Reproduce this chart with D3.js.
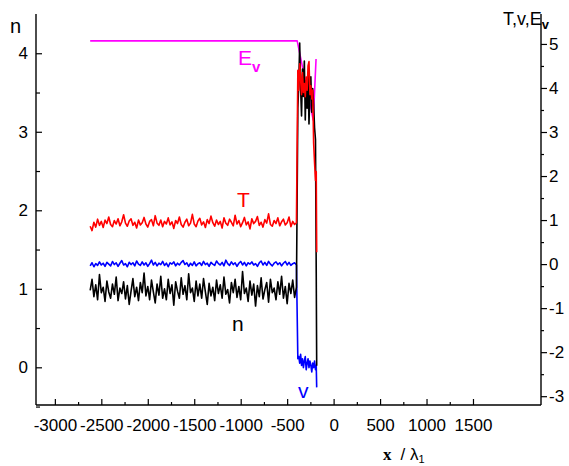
<!DOCTYPE html>
<html>
<head>
<meta charset="utf-8">
<script src="https://cdn.jsdelivr.net/npm/d3@7"></script>
<style>
  body { margin: 0; background: #fff; }
  text { font-family: "Liberation Sans", Arial, sans-serif; }
</style>
</head>
<body>
<div id="chart"></div>
<script>
'use strict';

// upstream sample positions (x / lambda1)
const xUp = [
  -2620, -2600, -2580, -2560, -2540, -2520, -2500, -2480, -2460, -2440,
  -2420, -2400, -2380, -2360, -2340, -2320, -2300, -2280, -2260, -2240,
  -2220, -2200, -2180, -2160, -2140, -2120, -2100, -2080, -2060, -2040,
  -2020, -2000, -1980, -1960, -1940, -1920, -1900, -1880, -1860, -1840,
  -1820, -1800, -1780, -1760, -1740, -1720, -1700, -1680, -1660, -1640,
  -1620, -1600, -1580, -1560, -1540, -1520, -1500, -1480, -1460, -1440,
  -1420, -1400, -1380, -1360, -1340, -1320, -1300, -1280, -1260, -1240,
  -1220, -1200, -1180, -1160, -1140, -1120, -1100, -1080, -1060, -1040,
  -1020, -1000, -980, -960, -940, -920, -900, -880, -860, -840,
  -820, -800, -780, -760, -740, -720, -700, -680, -660, -640,
  -620, -600, -580, -560, -540, -520, -500, -480, -460, -440,
  -420, -400
];
// shock region sample positions
const xShock = [
  -385, -375, -365, -355, -345, -335, -325, -315, -305, -295, -285,
  -275, -265, -255, -245, -235, -225, -215, -205, -195, -187, -182
];

// T (right axis)
const tUp = [
  0.86, 0.76, 0.95, 0.84, 1.02, 0.88, 0.97, 0.83, 1.00, 0.92,
  1.07, 0.90, 0.85, 0.99, 0.91, 1.03, 0.87, 0.96, 1.12, 0.93,
  0.86, 0.98, 1.03, 0.88, 0.95, 0.82, 1.00, 0.89, 0.94, 1.06,
  0.91, 0.84, 0.97, 1.01, 0.87, 1.10, 0.93, 0.88, 1.00, 0.85,
  0.97, 0.91, 1.05, 0.89, 0.96, 0.81, 0.99, 0.92, 1.07, 0.90,
  0.84, 0.95, 1.02, 0.87, 0.93, 1.13, 0.91, 0.85, 0.98, 1.04,
  0.89, 0.96, 0.83, 1.01, 0.92, 1.09, 0.94, 0.86, 1.00, 0.90,
  0.97, 0.82, 1.05, 0.93, 0.88, 1.02, 0.95, 0.87, 1.11, 0.91,
  0.99, 0.85, 0.94, 1.06, 0.89, 0.96, 0.80, 1.03, 0.92, 0.97,
  1.08, 0.88, 0.95, 0.84, 1.01, 0.93, 1.14, 0.90, 0.86, 0.99,
  0.92, 1.05, 0.87, 0.96, 1.02, 0.89, 0.94, 1.07, 0.85, 0.97,
  0.90, 0.94
];
const tShock = [
  4.40, 3.95, 4.55, 4.20, 3.85, 4.35, 3.90, 4.10, 3.80, 4.25, 3.95,
  4.50, 4.60, 3.85, 4.05, 3.75, 3.95, 2.75, 2.30, 1.90, 2.10, 0.27
];

// v (right axis)
const vUp = [
  -0.04, 0.03, -0.06, 0.01, -0.03, 0.05, -0.02, 0.02, -0.05, 0.04,
  0.00, -0.04, 0.06, -0.01, 0.03, -0.05, 0.02, 0.08, -0.02, 0.01,
  -0.06, 0.04, -0.01, 0.03, -0.04, 0.07, 0.00, -0.03, 0.05, -0.02,
  0.03, -0.05, 0.01, 0.09, -0.02, 0.04, -0.04, 0.02, -0.01, 0.06,
  -0.03, 0.02, -0.06, 0.03, 0.00, 0.05, -0.04, 0.02, -0.02, 0.04,
  0.08, -0.01, 0.03, -0.05, 0.02, -0.03, 0.05, -0.04, 0.01, 0.03,
  -0.03, 0.06, -0.01, 0.02, -0.05, 0.04, 0.00, -0.03, 0.07, 0.01,
  -0.02, 0.04, -0.04, 0.09, 0.01, -0.03, 0.05, -0.01, 0.03, -0.05,
  0.02, 0.06, -0.02, 0.04, -0.04, 0.03, 0.00, 0.05, -0.02, 0.01,
  -0.05, 0.03, 0.07, -0.02, 0.04, -0.03, 0.06, 0.00, -0.04, 0.02,
  0.05, -0.01, 0.03, -0.04, 0.02, 0.06, -0.02, 0.04, -0.03, 0.01,
  0.03, -0.02
];
const vShock = [
  -2.15, -2.10, -2.25, -2.05, -2.30, -2.15, -2.35, -2.20, -2.10, -2.40, -2.25,
  -2.15, -2.35, -2.20, -2.30, -2.45, -2.25, -2.35, -2.20, -2.40, -2.30, -2.80
];

// n (left axis)
const nUp = [
  0.98, 1.12, 0.90, 1.05, 0.86, 1.18, 0.95, 1.02, 0.84, 1.10,
  0.96, 0.88, 1.06, 0.93, 1.15, 0.85, 1.01, 0.94, 1.09, 0.87,
  1.04, 0.80, 0.97, 1.13, 0.90, 1.02, 0.85, 1.08, 0.95, 1.20,
  0.91, 1.03, 0.86, 1.11, 0.96, 0.82, 1.06, 0.92, 1.16, 0.88,
  1.00, 0.86, 1.12, 0.94, 1.05, 0.79, 1.09, 0.97, 0.88, 1.14,
  0.93, 1.04, 0.86, 1.19, 0.95, 1.01, 0.84, 1.10, 0.91, 1.06,
  0.88, 1.13, 0.96, 0.80, 1.07, 0.91, 1.02, 0.85, 1.11, 0.94,
  1.05, 0.88, 1.15, 0.93, 0.99, 0.82, 1.08, 0.95, 1.12, 0.89,
  1.03, 0.86, 1.22, 0.94, 1.01, 0.84, 1.10, 0.92, 1.06, 0.78,
  1.04, 0.90, 1.14, 0.87, 0.99, 1.08, 0.83, 1.12, 0.95, 1.01,
  0.86, 1.09, 0.93, 1.16, 0.88, 1.03, 0.81, 1.07, 0.94, 1.11,
  0.89, 1.02
];
const nShock = [
  3.30, 3.60, 4.13, 3.55, 3.20, 3.80, 3.45, 3.90, 3.15, 3.65, 3.30,
  3.75, 3.10, 3.50, 3.70, 3.25, 3.55, 3.35, 3.05, 2.90, 1.20, 0.02
];

// E_v (right axis)
const xEv = [-2620, -392, -219, -189];
const evVals = [5.07, 5.07, 3.27, 4.66];

const xTicks = [-3000, -2500, -2000, -1500, -1000, -500, 0, 500, 1000, 1500];
const leftTicks = [0, 1, 2, 3, 4];
const rightTicks = [-3, -2, -1, 0, 1, 2, 3, 4, 5];

const width = 569, height = 466;
const L = 36, R = 541, T = 14, B = 405;

const svg = d3.select('#chart').append('svg')
    .attr('width', width)
    .attr('height', height);

const x = d3.scaleLinear().domain([-3203, 2232]).range([L, R]);
const yL = d3.scaleLinear().domain([-0.48, 4.5]).range([B, T]);
const yR = d3.scaleLinear().domain([-3.2, 5.68]).range([B, T]);

// plain hyphen minus, like the original plot
const fmt = d => String(d);

function pairs(xs, ys) {
    return xs.map((d, i) => [d, ys[i]]);
}

const xAll = xUp.concat(xShock);
const series = [
    {data: pairs(xEv, evVals), y: yR, color: '#ff00ff'},
    {data: pairs(xAll, vUp.concat(vShock)), y: yR, color: '#0000ff'},
    {data: pairs(xAll, nUp.concat(nShock)), y: yL, color: '#000000'},
    {data: pairs(xAll, tUp.concat(tShock)), y: yR, color: '#ff0000'}
];

series.forEach(s => {
    const line = d3.line().x(d => x(d[0])).y(d => s.y(d[1]));
    svg.append('path')
        .datum(s.data)
        .attr('d', line)
        .attr('fill', 'none')
        .attr('stroke', s.color)
        .attr('stroke-width', 1.6)
        .attr('stroke-linejoin', 'round');
});

// axes
const bottom = svg.append('g').attr('transform', `translate(0,${B})`)
    .call(d3.axisBottom(x).tickValues(xTicks).tickSize(-6).tickPadding(14).tickFormat(fmt));
svg.append('g').attr('transform', `translate(0,${B})`)
    .call(d3.axisBottom(x).tickValues(xTicks.slice(0, -1).map(d => d + 250)).tickSize(-3).tickFormat(''))
    .select('.domain').remove();

const left = svg.append('g').attr('transform', `translate(${L},0)`)
    .call(d3.axisLeft(yL).tickValues(leftTicks).tickSize(-6).tickPadding(8).tickFormat(fmt));
svg.append('g').attr('transform', `translate(${L},0)`)
    .call(d3.axisLeft(yL).tickValues([-0.5, 0.5, 1.5, 2.5, 3.5]).tickSize(-4).tickFormat(''))
    .select('.domain').remove();

const right = svg.append('g').attr('transform', `translate(${R},0)`)
    .call(d3.axisRight(yR).tickValues(rightTicks).tickSize(6).tickPadding(2).tickFormat(fmt));
svg.append('g').attr('transform', `translate(${R},0)`)
    .call(d3.axisRight(yR).tickValues([-2.5, -1.5, -0.5, 0.5, 1.5, 2.5, 3.5, 4.5]).tickSize(3).tickFormat(''))
    .select('.domain').remove();

svg.selectAll('.tick line').attr('stroke-width', 1.2);
svg.selectAll('.tick text')
    .attr('font-size', 17)
    .attr('fill', '#000')
    .style('font-family', '"Liberation Sans", Arial, sans-serif');

// straight domain lines without end caps
bottom.select('.domain').attr('d', `M${L},0H${R}`);
left.select('.domain').attr('d', `M0,${T}V${B}`);
right.select('.domain').attr('d', `M0,${T}V${B}`);
svg.selectAll('.domain').attr('stroke', '#000').attr('stroke-width', 1.4);

// axis titles
svg.append('text').attr('x', 10).attr('y', 33).attr('font-size', 20).text('n');

const tr = svg.append('text').attr('x', 503).attr('y', 25).attr('font-size', 18);
tr.append('tspan').text('T,v,E');
tr.append('tspan').attr('font-size', 13).attr('font-weight', 'bold').attr('dy', 4).text('v');

const xt = svg.append('text').attr('x', 383).attr('y', 460).attr('font-size', 17);
xt.append('tspan').attr('font-weight', 'bold')
    .style('font-family', '"Liberation Serif", "DejaVu Serif", serif').text('x');
xt.append('tspan').attr('dx', 9).text('/ λ');
xt.append('tspan').attr('font-size', 11).attr('dy', 3).text('1');

// in-plot labels
const ev = svg.append('text').attr('x', 238).attr('y', 65).attr('font-size', 21).attr('fill', '#ff00ff');
ev.append('tspan').text('E');
ev.append('tspan').attr('font-size', 15).attr('font-weight', 'bold').attr('dy', 7).text('v');

svg.append('text').attr('x', 237).attr('y', 207).attr('font-size', 21).attr('fill', '#ff0000').text('T');
svg.append('text').attr('x', 232).attr('y', 331).attr('font-size', 21).attr('fill', '#000').text('n');
svg.append('text').attr('x', 298).attr('y', 398).attr('font-size', 21).attr('fill', '#0000ff').text('v');
</script>
</body>
</html>
